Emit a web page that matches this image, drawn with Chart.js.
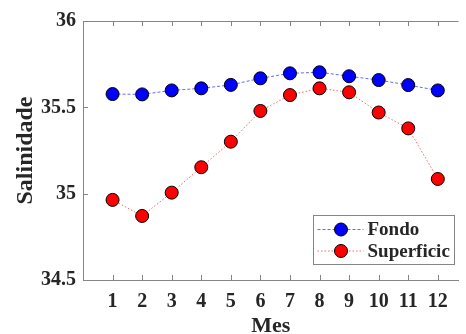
<!DOCTYPE html>
<html>
<head>
<meta charset="utf-8">
<script src="https://cdn.jsdelivr.net/npm/chart.js@4/dist/chart.umd.min.js"></script>
<style>
  html, body { margin: 0; padding: 0; background: #fff; }
  #wrap { width: 466px; height: 334px; }
</style>
</head>
<body>
<div id="wrap"><canvas id="chart"></canvas></div>
<script>
// Monthly salinity, bottom vs surface.
const months = [1, 2, 3, 4, 5, 6, 7, 8, 9, 10, 11, 12];
const fondo = [35.577, 35.575, 35.598, 35.61, 35.63, 35.668, 35.697, 35.703, 35.68, 35.658, 35.629, 35.598];
const superficie = [34.964, 34.871, 35.006, 35.153, 35.301, 35.479, 35.571, 35.61, 35.587, 35.47, 35.378, 35.085];
const yTicks = [34.5, 35, 35.5, 36];
const seriesNames = ["Fondo", "Superficic"];

const INK = "#262626";
const AXIS = "#858585";
const FONT = "'Liberation Serif', 'Times New Roman', serif";
const TICK = 5;

// Inward tick marks plus the top frame line.
const frame = {
  id: "frame",
  afterDraw(chart) {
    const { ctx, chartArea: a, scales: { x, y } } = chart;
    ctx.save();
    ctx.strokeStyle = AXIS;
    ctx.lineWidth = 1;
    ctx.beginPath();
    ctx.moveTo(a.left, a.top + 0.5);
    ctx.lineTo(a.right, a.top + 0.5);
    x.ticks.forEach((t) => {
      const px = Math.round(x.getPixelForValue(t.value)) + 0.5;
      ctx.moveTo(px, a.bottom);
      ctx.lineTo(px, a.bottom - TICK);
      ctx.moveTo(px, a.top);
      ctx.lineTo(px, a.top + TICK);
    });
    y.ticks.forEach((t) => {
      const py = Math.round(y.getPixelForValue(t.value)) + 0.5;
      ctx.moveTo(a.left, py);
      ctx.lineTo(a.left + TICK, py);
    });
    ctx.stroke();
    ctx.restore();
  }
};

// Boxed legend in the lower right corner of the plot.
const boxLegend = {
  id: "boxLegend",
  afterDraw(chart) {
    const { ctx } = chart;
    const left = 313.5, top = 215.5, w = 141, h = 49;
    ctx.save();
    ctx.fillStyle = "#fff";
    ctx.fillRect(left, top, w, h);
    ctx.strokeStyle = AXIS;
    ctx.lineWidth = 1;
    ctx.strokeRect(left, top, w, h);
    chart.data.datasets.forEach((ds, i) => {
      const cy = top + 14 + i * 21.5;
      ctx.strokeStyle = ds.borderColor;
      ctx.setLineDash(ds.borderDash);
      ctx.beginPath();
      ctx.moveTo(left + 4, cy);
      ctx.lineTo(left + 50, cy);
      ctx.stroke();
      ctx.setLineDash([]);
      ctx.beginPath();
      ctx.arc(left + 27.5, cy, ds.pointRadius, 0, Math.PI * 2);
      ctx.fillStyle = ds.pointBackgroundColor;
      ctx.fill();
      ctx.strokeStyle = ds.pointBorderColor;
      ctx.stroke();
      ctx.fillStyle = INK;
      ctx.font = `bold 19px ${FONT}`;
      ctx.textBaseline = "middle";
      ctx.fillText(ds.label, left + 54, cy + 1);
    });
    ctx.restore();
  }
};

const series = (label, values, line, fill, dash) => ({
  label,
  data: months.map((m, i) => ({ x: m, y: values[i] })),
  borderColor: line,
  borderWidth: 1,
  borderDash: dash,
  pointRadius: 6.5,
  pointBackgroundColor: fill,
  pointBorderColor: "#000",
  pointBorderWidth: 1
});

new Chart(document.getElementById("chart"), {
  type: "line",
  data: {
    datasets: [
      series(seriesNames[0], fondo, "rgba(0,0,255,0.6)", "#0000ff", [3, 2]),
      series(seriesNames[1], superficie, "rgba(255,0,0,0.6)", "#ff0000", [1.5, 2])
    ]
  },
  options: {
    animation: false,
    responsive: true,
    maintainAspectRatio: false,
    layout: { padding: { top: 21, left: 0, right: 0, bottom: 0 } },
    plugins: { legend: { display: false }, tooltip: { enabled: false } },
    scales: {
      x: {
        type: "linear",
        min: 0,
        max: 12.7,
        afterBuildTicks: (s) => { s.ticks = months.map((v) => ({ value: v })); },
        afterFit: (s) => { s.height = 54; },
        grid: { display: false, drawTicks: false },
        border: { color: AXIS },
        ticks: {
          padding: 10,
          color: INK,
          font: { family: FONT, size: 20, weight: "bold" },
          maxRotation: 0
        },
        title: {
          display: true,
          text: "Mes",
          color: INK,
          font: { family: FONT, size: 22, weight: "bold", lineHeight: 0.73 },
          padding: { top: 0, bottom: 0 }
        }
      },
      y: {
        min: 34.5,
        max: 36,
        afterBuildTicks: (s) => { s.ticks = yTicks.map((v) => ({ value: v })); },
        afterFit: (s) => { s.width = 83; },
        grid: { display: false, drawTicks: false },
        border: { color: AXIS },
        ticks: {
          padding: 7,
          color: INK,
          font: { family: FONT, size: 20, weight: "bold" },
          callback: (v) => String(v)
        },
        title: {
          display: true,
          text: "Salinidade",
          color: INK,
          font: { family: FONT, size: 24, weight: "bold", lineHeight: 1 },
          padding: { top: 14, bottom: 0 }
        }
      }
    }
  },
  plugins: [frame, boxLegend]
});
</script>
</body>
</html>
